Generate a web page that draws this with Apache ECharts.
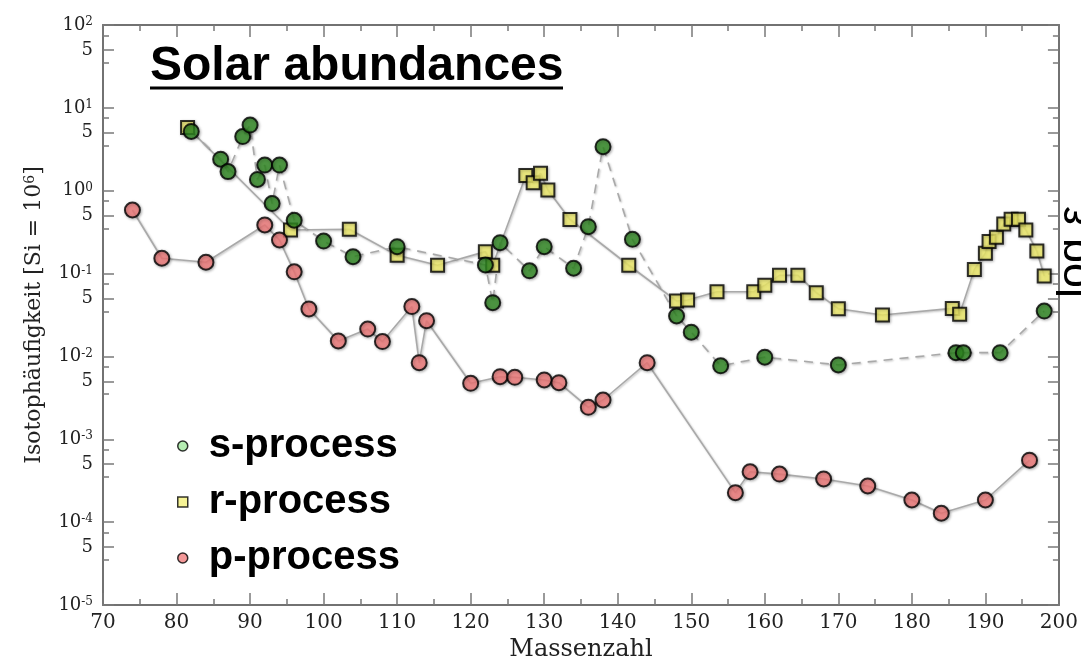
<!DOCTYPE html>
<html>
<head>
<meta charset="utf-8">
<title>Solar abundances</title>
<script src="https://cdn.jsdelivr.net/npm/echarts@6/dist/echarts.min.js"></script>
<style>
  html, body { margin: 0; padding: 0; background: #ffffff; }
  #chart { width: 1081px; height: 668px; }
</style>
</head>
<body>
<div id="chart"></div>
<script>
// s-process isotopes: mass number and abundance (Si = 1e6)
const massS = [82, 86, 87, 89, 90, 91, 92, 93, 94, 96, 100, 104, 110, 122, 123, 124, 128, 130, 134, 136, 138, 142, 148, 150, 154, 160, 170, 186, 187, 192, 198];
const abundS = [5.2, 2.4, 1.7, 4.5, 6.2, 1.37, 2.04, 0.70, 2.04, 0.44, 0.247, 0.16, 0.211, 0.127, 0.0445, 0.236, 0.108, 0.211, 0.116, 0.368, 3.4, 0.259, 0.0308, 0.0196, 0.0077, 0.0098, 0.0079, 0.0111, 0.0111, 0.0111, 0.0353];

// r-process isotopes
const massR = [81.5, 95.5, 103.5, 110, 115.5, 122, 123, 127.5, 128.5, 129.5, 130.5, 133.5, 141.5, 148, 149.5, 153.5, 158.5, 160, 162, 164.5, 167, 170, 176, 185.5, 186.5, 188.5, 190, 190.5, 191.5, 192.5, 193.5, 194.5, 195.5, 197, 198];
const abundR = [5.8, 0.336, 0.342, 0.166, 0.126, 0.184, 0.126, 1.53, 1.25, 1.62, 1.02, 0.45, 0.126, 0.0467, 0.048, 0.0604, 0.0604, 0.0722, 0.0953, 0.0953, 0.0588, 0.0377, 0.0316, 0.038, 0.0323, 0.112, 0.176, 0.243, 0.274, 0.397, 0.452, 0.452, 0.336, 0.187, 0.0935];

// p-process isotopes
const massP = [74, 78, 84, 92, 94, 96, 98, 102, 106, 108, 112, 113, 114, 120, 124, 126, 130, 132, 136, 138, 144, 156, 158, 162, 168, 174, 180, 184, 190, 196];
const abundP = [0.585, 0.153, 0.137, 0.386, 0.254, 0.105, 0.0374, 0.0154, 0.0214, 0.0151, 0.040, 0.0084, 0.027, 0.00474, 0.00569, 0.0056, 0.0052, 0.00482, 0.00243, 0.00298, 0.0084, 2.27e-4, 4.06e-4, 3.8e-4, 3.32e-4, 2.73e-4, 1.85e-4, 1.28e-4, 1.85e-4, 5.6e-4];

// axis decoration: decades, the labelled "5" mark, and the short in-between marks
const decadeExponents = [-5, -4, -3, -2, -1, 0, 1, 2];
const labelledMultiplier = 5;
const minorMultipliers = [3.5, 7.5];
const massTicks = { min: 70, max: 200, step: 10 };

const pairs = (m, a) => m.map((x, i) => [x, a[i]]);
const logMin = decadeExponents[0];
const logMax = decadeExponents[decadeExponents.length - 1];

const longTicks = [];
decadeExponents.forEach(n => {
  longTicks.push(n);
  if (n < logMax) longTicks.push(n + Math.log10(labelledMultiplier));
});
const shortTicks = [];
decadeExponents.forEach(n => {
  if (n < logMax) minorMultipliers.forEach(m => shortTicks.push(n + Math.log10(m)));
});

const AXIS_GRAY = '#727272';
const TICK_GRAY = '#7a7a7a';
const LINE_GRAY = '#a9a9a9';

const richLabel = {
  b: { fontFamily: 'DejaVu Serif', fontSize: 18, lineHeight: 18, color: '#222', verticalAlign: 'bottom' },
  sup: { fontFamily: 'DejaVu Serif', fontSize: 12, lineHeight: 12, color: '#222', verticalAlign: 'top', padding: [0, 0, 10, 0] }
};

function tickLabel(val) {
  const r = Math.round(val);
  if (Math.abs(val - r) < 1e-6) return '{b|10}{sup|' + r + '}';
  return '{b|' + labelledMultiplier + '}';
}

function decoAxis(position, ticks, len, opts) {
  return Object.assign({
    type: 'value',
    position: position,
    min: logMin,
    max: logMax,
    axisLine: { show: false, onZero: false },
    axisTick: { show: true, inside: true, length: len, customValues: ticks, lineStyle: { color: TICK_GRAY, width: 1.5 } },
    axisLabel: { show: false },
    splitLine: { show: false }
  }, opts || {});
}

const markerShadow = { shadowColor: 'rgba(0,0,0,0.35)', shadowBlur: 3, shadowOffsetX: 1, shadowOffsetY: 1 };
const lineShadow = { shadowColor: 'rgba(0,0,0,0.25)', shadowBlur: 2, shadowOffsetX: 1, shadowOffsetY: 1 };

function lineSeries(name, m, a, dashed) {
  return {
    name: name,
    type: 'line',
    xAxisIndex: 0, yAxisIndex: 0,
    data: pairs(m, a),
    showSymbol: false,
    symbol: 'none',
    silent: true,
    z: 2,
    lineStyle: Object.assign({ color: LINE_GRAY, width: 1.6, type: dashed ? [9, 7] : 'solid' }, lineShadow)
  };
}

function scatterSeries(name, m, a, symbol, size, color, z) {
  return {
    name: name,
    type: 'scatter',
    xAxisIndex: 0, yAxisIndex: 0,
    data: pairs(m, a),
    symbol: symbol,
    symbolSize: size,
    z: z,
    itemStyle: Object.assign({ color: color, borderColor: '#000', borderWidth: 2 }, markerShadow)
  };
}

const chart = echarts.init(document.getElementById('chart'), null, { renderer: 'canvas' });

chart.setOption({
  animation: false,
  backgroundColor: '#ffffff',
  grid: { left: 103, right: 20, top: 25, bottom: 63, containLabel: false },
  xAxis: [
    {
      type: 'value', position: 'bottom',
      min: massTicks.min, max: massTicks.max, interval: massTicks.step,
      name: 'Massenzahl', nameLocation: 'middle', nameGap: 31,
      nameTextStyle: { fontFamily: 'DejaVu Serif', fontSize: 24, color: '#222' },
      axisLine: { show: true, onZero: false, lineStyle: { color: AXIS_GRAY, width: 2 } },
      axisTick: { show: true, inside: true, length: 12, lineStyle: { color: TICK_GRAY, width: 1.5 } },
      minorTick: { show: true, splitNumber: 2, length: 6, lineStyle: { color: TICK_GRAY, width: 1.5 } },
      axisLabel: { fontFamily: 'DejaVu Serif', fontSize: 20, color: '#222', margin: 8 },
      splitLine: { show: false }
    },
    {
      type: 'value', position: 'top',
      min: massTicks.min, max: massTicks.max, interval: massTicks.step,
      axisLine: { show: true, onZero: false, lineStyle: { color: AXIS_GRAY, width: 2 } },
      axisTick: { show: true, inside: true, length: 12, lineStyle: { color: TICK_GRAY, width: 1.5 } },
      minorTick: { show: true, splitNumber: 2, length: 6, lineStyle: { color: TICK_GRAY, width: 1.5 } },
      axisLabel: { show: false },
      splitLine: { show: false }
    }
  ],
  yAxis: [
    {
      type: 'log', logBase: 10, position: 'left',
      min: Math.pow(10, logMin), max: Math.pow(10, logMax),
      show: false,
      splitLine: { show: false }
    },
    decoAxis('left', longTicks, 11, {
      axisLine: { show: true, onZero: false, lineStyle: { color: AXIS_GRAY, width: 2 } },
      axisLabel: { show: true, customValues: longTicks, formatter: tickLabel, margin: 10, rich: richLabel },
      name: 'Isotophäufigkeit [Si = 10{sup|6}]',
      nameLocation: 'middle', nameGap: 58, nameRotate: 90,
      nameTextStyle: {
        fontFamily: 'DejaVu Serif', fontSize: 22, color: '#222',
        rich: { sup: { fontFamily: 'DejaVu Serif', fontSize: 14, color: '#222', verticalAlign: 'top', padding: [0, 0, 8, 0] } }
      }
    }),
    decoAxis('left', shortTicks, 6),
    decoAxis('right', longTicks, 11, {
      axisLine: { show: true, onZero: false, lineStyle: { color: AXIS_GRAY, width: 2 } }
    }),
    decoAxis('right', shortTicks, 6)
  ],
  legend: {
    orient: 'vertical',
    left: 172, top: 421,
    itemWidth: 10, itemHeight: 10, itemGap: 16,
    selectedMode: false,
    data: [
      { name: 's-process', icon: 'circle', itemStyle: { color: '#a3e89f', borderColor: '#000', borderWidth: 1.5 } },
      { name: 'r-process', icon: 'rect', itemStyle: { color: '#f4f07a', borderColor: '#000', borderWidth: 1.5 } },
      { name: 'p-process', icon: 'circle', itemStyle: { color: '#f07e7e', borderColor: '#000', borderWidth: 1.5 } }
    ],
    formatter: n => '{t|' + n + '}',
    textStyle: {
      rich: { t: { fontFamily: 'Liberation Sans', fontWeight: 'bold', fontSize: 40, lineHeight: 40, color: '#000', padding: [0, 0, 0, 16] } }
    }
  },
  graphic: [
    {
      type: 'text', x: 150, y: 67, z: 10,
      style: { text: 'Solar abundances', font: 'bold 48px "Liberation Sans"', fill: '#000', align: 'left', verticalAlign: 'middle' }
    },
    {
      type: 'line', z: 10,
      shape: { x1: 150, y1: 88, x2: 563, y2: 88 },
      style: { stroke: '#000', lineWidth: 3 }
    },
    {
      type: 'text', x: 1076, y: 298, rotation: Math.PI / 2, z: 10,
      style: { text: 'log ε', font: '45px "Liberation Sans"', fill: '#000', align: 'left', verticalAlign: 'middle' }
    }
  ],
  series: [
    lineSeries('r-line', massR, abundR, false),
    lineSeries('s-line', massS, abundS, true),
    lineSeries('p-line', massP, abundP, false),
    scatterSeries('r-process', massR, abundR, 'rect', 13, '#f4f06c', 3),
    scatterSeries('s-process', massS, abundS, 'circle', 15, '#2f8a22', 4),
    scatterSeries('p-process', massP, abundP, 'circle', 15, '#f27b7b', 5)
  ]
});
</script>
</body>
</html>
